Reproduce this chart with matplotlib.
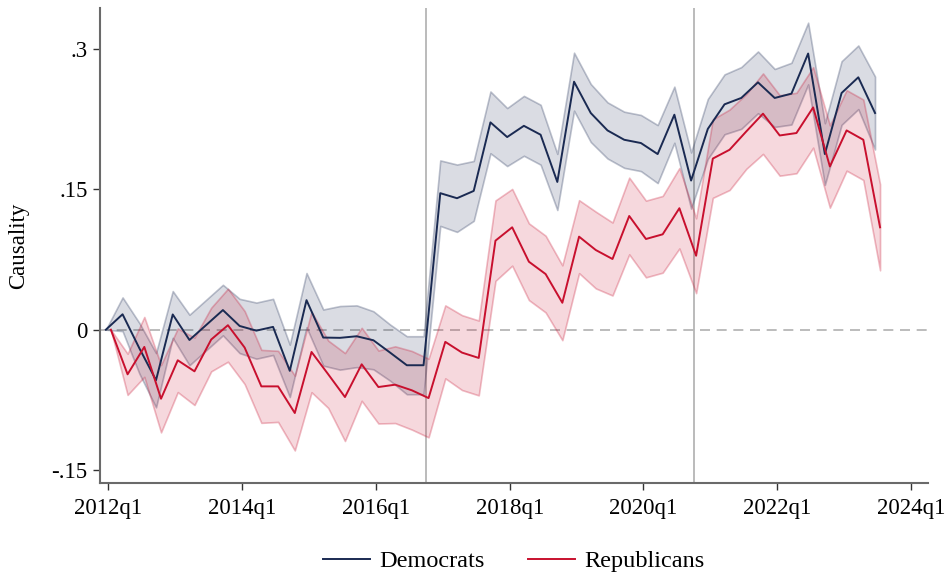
import numpy as np
import matplotlib
matplotlib.use("Agg")
import matplotlib.pyplot as plt
from matplotlib.lines import Line2D

plt.rcParams["font.family"] = ["Liberation Serif", "DejaVu Serif"]

# quarterly index: 0 = 2012q1 ... 46 = 2023q3
tick_quarters = [0, 8, 16, 24, 32, 40, 48]
tick_labels = ["2012q1", "2014q1", "2016q1", "2018q1", "2020q1", "2022q1", "2024q1"]
event_quarters = [19, 35]  # 2016q4, 2020q4

dem = [0, .0165, -.0197, -.054, .0163, -.011, .005, .021, .004, -.001,
       .003, -.044, .0316, -.0084, -.0087, -.007, -.0113, -.0245, -.038, -.038,
       .146, .1406, .1484, .2217, .206, .218, .2085, .158, .2652, .2317,
       .2131, .2031, .1996, .1878, .2299, .1595, .2147, .241, .2478, .2645,
       .2478, .2524, .2953, .1878, .2531, .2699, .2317]
dem_hw = [0, .018, .027, .029, .025, .027, .027, .027, .029, .030,
          .030, .028, .029, .030, .034, .033, .031, .030, .031, .031,
          .035, .036, .032, .033, .031, .032, .032, .030, .031, .031,
          .030, .030, .030, .031, .030, .030, .032, .032, .033, .033,
          .031, .033, .033, .033, .034, .034, .039]

rep = [0, -.0477, -.0184, -.0738, -.0327, -.0445, -.0105, .0048, -.0191, -.0606,
       -.0606, -.0891, -.0238, -.0477, -.072, -.037, -.0613, -.0588, -.0648, -.0731,
       -.013, -.0245, -.0302, .0952, .1095, .0727, .0595, .0288, .0995, .0852,
       .0756, .1216, .097, .102, .1299, .0791, .183, .1924, .212, .231,
       .2077, .2103, .2377, .1745, .2131, .2031, .1095]
rep_hw = [0, .022, .032, .036, .034, .036, .034, .039, .039, .039,
          .038, .040, .043, .036, .047, .039, .039, .041, .042, .042,
          .039, .040, .040, .043, .041, .041, .041, .040, .039, .041,
          .039, .041, .041, .041, .043, .040, .042, .043, .040, .043,
          .043, .043, .043, .044, .043, .043, .046]

DEM_COLOR = "#1a2a52"
REP_COLOR = "#c8102e"

q = np.arange(len(dem))
dem = np.array(dem)
rep = np.array(rep)
dem_hw = np.array(dem_hw)
rep_hw = np.array(rep_hw)
x_dem = q - 0.15
x_rep = q + 0.15

fig = plt.figure(figsize=(9.49, 5.76), dpi=100)
ax = fig.add_axes([100 / 949, 1 - 482.7 / 576, 827.7 / 949, 474.7 / 576])

# confidence bands
ax.fill_between(x_dem, dem - dem_hw, dem + dem_hw, facecolor=(0.10, 0.16, 0.32, 0.16),
                edgecolor=(0.10, 0.16, 0.32, 0.28), linewidth=1.2, zorder=2)
ax.fill_between(x_rep, rep - rep_hw, rep + rep_hw, facecolor=(0.78, 0.06, 0.18, 0.16),
                edgecolor=(0.78, 0.06, 0.18, 0.28), linewidth=1.2, zorder=2)

# reference lines
ax.axhline(0, color="#b0b0b0", linewidth=1.2, dashes=(6, 4), zorder=1)
for eq in event_quarters:
    ax.axvline(eq, color="#a8a8a8", linewidth=1.1, zorder=1)

ax.plot(x_dem, dem, color=DEM_COLOR, linewidth=1.4, zorder=4)
ax.plot(x_rep, rep, color=REP_COLOR, linewidth=1.4, zorder=4)

ax.set_xlim(-0.5, 49.0)
ax.set_ylim(-0.1636, 0.344)
ax.set_xticks(tick_quarters)
ax.set_xticklabels(tick_labels)
ax.set_yticks([-.15, 0, .15, .3])
ax.set_yticklabels(["-.15", "0", ".15", ".3"])
ax.tick_params(axis="both", labelsize=16.5, length=5, width=1, color="#333333",
               direction="out", pad=4)
ax.tick_params(axis="x", pad=6)
ax.set_ylabel("Causality", fontsize=16.5, labelpad=16)

for side in ("top", "right"):
    ax.spines[side].set_visible(False)
for side in ("left", "bottom"):
    ax.spines[side].set_color("#6a6a6a")
    ax.spines[side].set_linewidth(1.5)

handles = [Line2D([], [], color=DEM_COLOR, linewidth=1.4, label="Democrats"),
           Line2D([], [], color=REP_COLOR, linewidth=1.4, label="Republicans")]
fig.legend(handles=handles, loc="center", bbox_to_anchor=(514 / 949, 15 / 576), ncol=2,
           frameon=False, fontsize=17.5, handlelength=1.9, handletextpad=0.4,
           columnspacing=1.8)

fig.savefig("out.png", dpi=100)
